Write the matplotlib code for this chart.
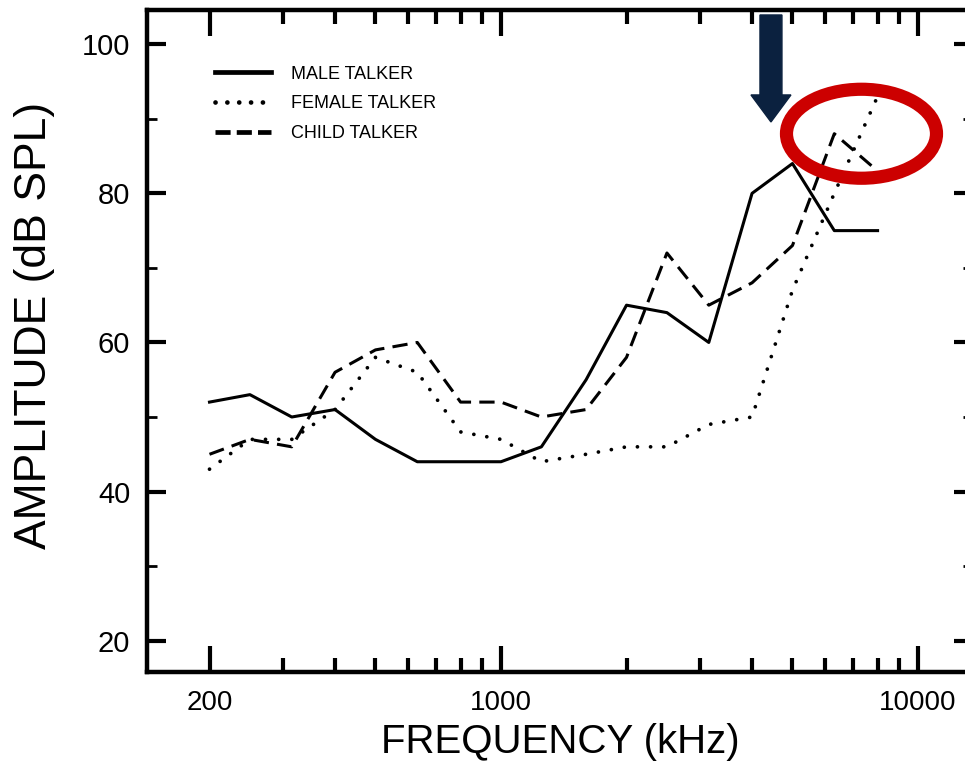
import matplotlib.pyplot as plt
from matplotlib.patches import Ellipse, FancyArrow
from matplotlib.ticker import FixedLocator, LogLocator, NullFormatter

# one-third octave band centre frequencies (Hz)
freqs = [200, 250, 315, 400, 500, 630, 800, 1000, 1250, 1600,
         2000, 2500, 3150, 4000, 5000, 6300, 8000]

# band levels in dB SPL
male_db = [52, 53, 50, 51, 47, 44, 44, 44, 46, 55, 65, 64, 60, 80, 84, 75, 75]
female_db = [43, 47, 47, 51, 58, 56, 48, 47, 44, 45, 46, 46, 49, 50, 67, 80, 93]
child_db = [45, 47, 46, 56, 59, 60, 52, 52, 50, 51, 58, 72, 65, 68, 73, 88, 83]

series_labels = ['MALE TALKER', 'FEMALE TALKER', 'CHILD TALKER']

x_major = [200, 1000, 10000]
x_major_labels = ['200', '1000', '10000']
y_major = [20, 40, 60, 80, 100]
y_minor = [30, 50, 70, 90]

font = ['Liberation Sans', 'DejaVu Sans']

fig = plt.figure(figsize=(9.65, 7.65), dpi=100)
ax = fig.add_axes([0.1523, 0.1216, 0.856, 0.8654])

ax.plot(freqs, male_db, color='black', lw=2.2, label=series_labels[0])
ax.plot(freqs, female_db, color='black', lw=2.7, linestyle=(0, (0.01, 3.5)),
        dash_capstyle='round', label=series_labels[1])
ax.plot(freqs, child_db, color='black', lw=2.2, linestyle=(0, (5.0, 2.7)),
        label=series_labels[2])

ax.set_xscale('log')
ax.set_xlim(141.6, 13550)
ax.set_ylim(15.8, 104.6)

ax.xaxis.set_major_locator(FixedLocator(x_major))
ax.xaxis.set_minor_locator(LogLocator(base=10, subs=range(2, 10)))
ax.xaxis.set_minor_formatter(NullFormatter())
ax.set_xticks(x_major)
ax.set_xticklabels(x_major_labels, fontfamily=font, fontsize=20)
ax.set_yticks(y_major)
ax.set_yticks(y_minor, minor=True)
ax.set_yticklabels([str(v) for v in y_major], fontfamily=font, fontsize=21)

ax.tick_params(which='both', direction='in', top=True, right=True, color='black')
ax.tick_params(axis='x', which='major', length=19, width=3, pad=13)
ax.tick_params(axis='x', which='minor', length=10, width=3)
ax.tick_params(axis='y', which='major', length=14, width=3, pad=12)
ax.tick_params(axis='y', which='minor', length=7, width=2)

for sp in ax.spines.values():
    sp.set_linewidth(3.2)

ax.set_xlabel('FREQUENCY (kHz)', fontfamily=font, fontsize=29, labelpad=5)
ax.set_ylabel('AMPLITUDE (dB SPL)', fontfamily=font, fontsize=32)
ax.yaxis.set_label_coords(-0.111, 0.524)

leg = ax.legend(loc='upper left', bbox_to_anchor=(0.0823, 0.916), frameon=False,
                prop={'family': font, 'size': 13}, handlelength=3.1,
                handletextpad=1.1, labelspacing=0.7, borderpad=0, borderaxespad=0)
handles = leg.get_lines()
for line in handles:
    line.set_linewidth(3.4)
handles[1].set_linestyle((0, (0.01, 2.5)))
handles[2].set_linestyle((0, (3.2, 1.3)))

# highlight of the high-frequency region
arrow = FancyArrow(0.7554, 0.9924, 0, -0.1616, width=0.0266, head_width=0.0484,
                   head_length=0.0408, length_includes_head=True,
                   transform=ax.transAxes, color='#0b213f', zorder=5)
ax.add_patch(arrow)
ring = Ellipse((0.865, 0.813), 0.1816, 0.1344, transform=ax.transAxes,
               fill=False, edgecolor='#cc0000', lw=9.5, zorder=6)
ax.add_patch(ring)

fig.savefig('out.png', dpi=100)
